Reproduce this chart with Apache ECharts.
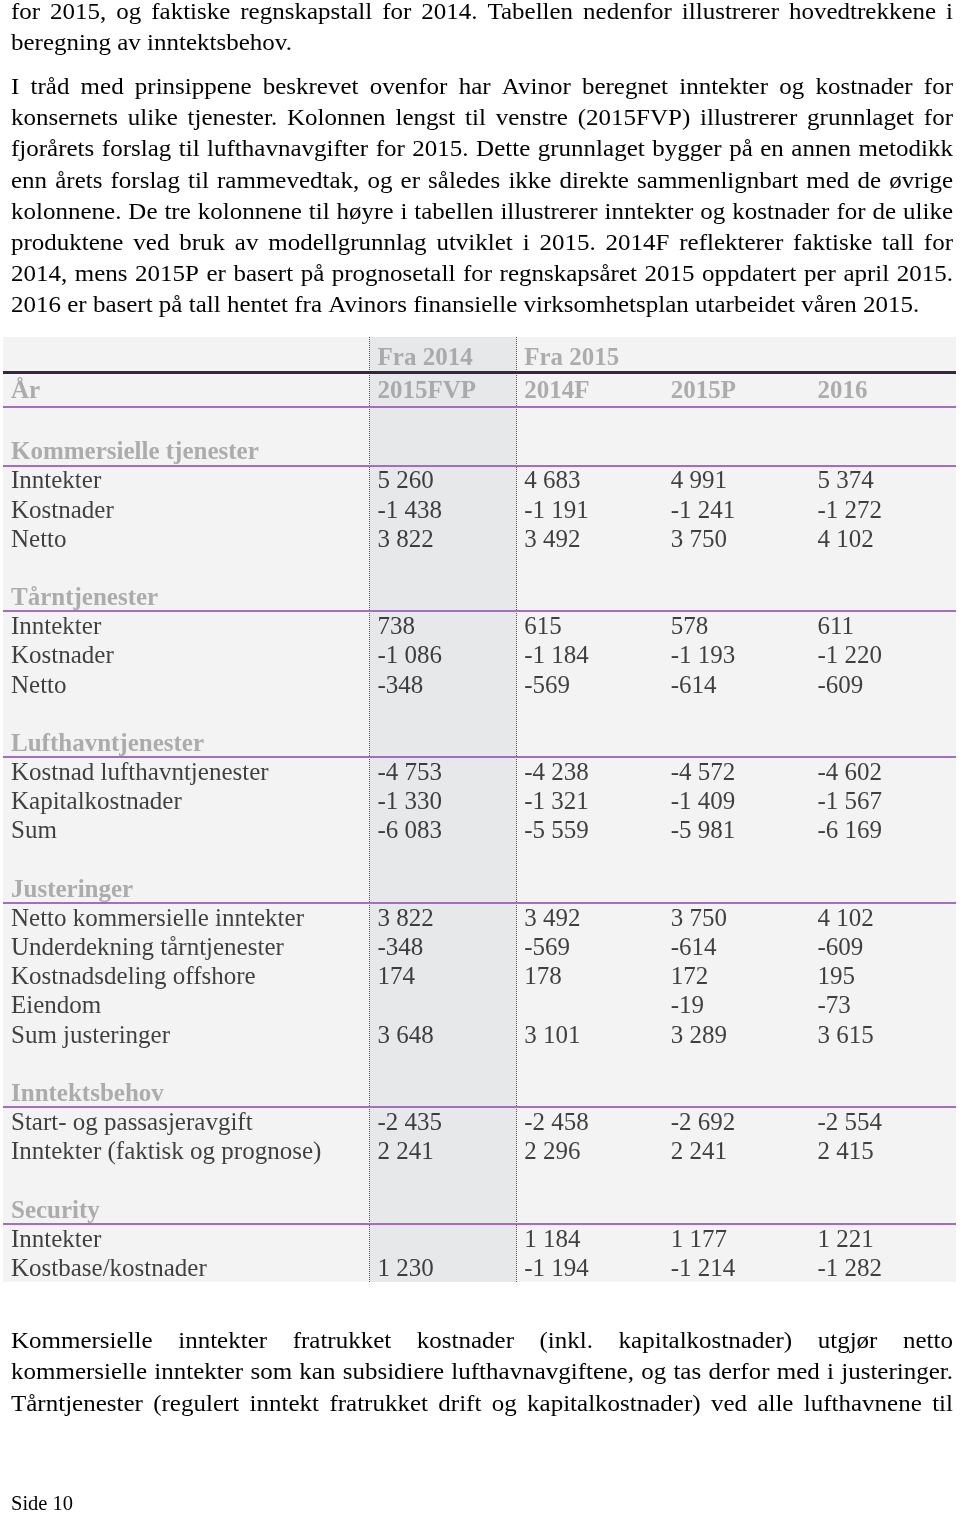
<!DOCTYPE html>
<html>
<head>
<meta charset="utf-8">
<script src="https://cdn.jsdelivr.net/npm/echarts@6/dist/echarts.min.js"></script>
<style>
html, body { margin: 0; padding: 0; background: #fff; }
#page { width: 960px; height: 1514px; }
</style>
</head>
<body>
<div id="page"></div>
<script>
// table columns
const columnNames = ['2015FVP', '2014F', '2015P', '2016'];
const columnGroups = ['Fra 2014', 'Fra 2015', '', ''];

// sections and their rows
const sectionNames = ['Kommersielle tjenester', 'Tårntjenester', 'Lufthavntjenester', 'Justeringer', 'Inntektsbehov', 'Security'];
const rowLabels = [
    ['Inntekter', 'Kostnader', 'Netto'],
    ['Inntekter', 'Kostnader', 'Netto'],
    ['Kostnad lufthavntjenester', 'Kapitalkostnader', 'Sum'],
    ['Netto kommersielle inntekter', 'Underdekning tårntjenester', 'Kostnadsdeling offshore', 'Eiendom', 'Sum justeringer'],
    ['Start- og passasjeravgift', 'Inntekter (faktisk og prognose)'],
    ['Inntekter', 'Kostbase/kostnader']
];

// values per column, in row order (null = empty cell)
const values2015FVP = [5260, -1438, 3822, 738, -1086, -348, -4753, -1330, -6083, 3822, -348, 174, null, 3648, -2435, 2241, null, 1230];
const values2014F = [4683, -1191, 3492, 615, -1184, -569, -4238, -1321, -5559, 3492, -569, 178, null, 3101, -2458, 2296, 1184, -1194];
const values2015P = [4991, -1241, 3750, 578, -1193, -614, -4572, -1409, -5981, 3750, -614, 172, -19, 3289, -2692, 2241, 1177, -1214];
const values2016 = [5374, -1272, 4102, 611, -1220, -609, -4602, -1567, -6169, 4102, -609, 195, -73, 3615, -2554, 2415, 1221, -1282];
const columnValues = [values2015FVP, values2014F, values2015P, values2016];

// running text
const paraTop = [
    'for 2015, og faktiske regnskapstall for 2014. Tabellen nedenfor illustrerer hovedtrekkene i',
    'beregning av inntektsbehov.'
];
const paraMain = [
    'I tråd med prinsippene beskrevet ovenfor har Avinor beregnet inntekter og kostnader for',
    'konsernets ulike tjenester. Kolonnen lengst til venstre (2015FVP) illustrerer grunnlaget for',
    'fjorårets forslag til lufthavnavgifter for 2015. Dette grunnlaget bygger på en annen metodikk',
    'enn årets forslag til rammevedtak, og er således ikke direkte sammenlignbart med de øvrige',
    'kolonnene. De tre kolonnene til høyre i tabellen illustrerer inntekter og kostnader for de ulike',
    'produktene ved bruk av modellgrunnlag utviklet i 2015. 2014F reflekterer faktiske tall for',
    '2014, mens 2015P er basert på prognosetall for regnskapsåret 2015 oppdatert per april 2015.',
    '2016 er basert på tall hentet fra Avinors finansielle virksomhetsplan utarbeidet våren 2015.'
];
const paraBottom = [
    'Kommersielle inntekter fratrukket kostnader (inkl. kapitalkostnader) utgjør netto',
    'kommersielle inntekter som kan subsidiere lufthavnavgiftene, og tas derfor med i justeringer.',
    'Tårntjenester (regulert inntekt fratrukket drift og kapitalkostnader) ved alle lufthavnene til'
];

const SERIF = 'Liberation Serif';
const LABEL_X = 0;       // left column on the x scale
const FIRST_COL_X = 2.5; // first value column starts here
const X_MAX = 6.5;
const HEAD_GRAY = '#9a9a9a';
const PURPLE = '#a56cc3';
const DARK = '#3a2147';

function fmt(v) {
    const s = String(Math.abs(v)).replace(/\B(?=(\d{3})+(?!\d))/g, ' ');
    return (v < 0 ? '-' : '') + s;
}

// build body rows: blank, section header, data rows
const rowKeys = [];
const labelData = [];
const valueData = columnNames.map(() => []);
const lineColors = [PURPLE];
let dataIdx = 0;
sectionNames.forEach((sec, s) => {
    rowKeys.push('r' + rowKeys.length); lineColors.push('transparent');
    labelData.push({ value: [LABEL_X, rowKeys.length], name: sec, label: { fontWeight: 'bold', color: HEAD_GRAY } });
    rowKeys.push('r' + rowKeys.length); lineColors.push(PURPLE);
    rowLabels[s].forEach(lbl => {
        const y = rowKeys.length;
        labelData.push({ value: [LABEL_X, y], name: lbl });
        columnValues.forEach((arr, c) => {
            if (arr[dataIdx] !== null) valueData[c].push({ value: [FIRST_COL_X + c, y], name: fmt(arr[dataIdx]) });
        });
        rowKeys.push('r' + rowKeys.length); lineColors.push('transparent');
        dataIdx++;
    });
});

// header rows
const headData = [{ value: [LABEL_X, 1], name: 'År' }];
columnNames.forEach((n, c) => {
    headData.push({ value: [FIRST_COL_X + c, 1], name: n });
    if (columnGroups[c]) headData.push({ value: [FIRST_COL_X + c, 0], name: columnGroups[c], label: { offset: [0, 4] } });
});

const cellLabel = {
    show: true, position: 'right', distance: 8, offset: [0, 2],
    formatter: p => p.name,
    fontFamily: SERIF, fontSize: 25, color: '#111'
};

const shadedColumn = {
    silent: true,
    itemStyle: { color: '#e7e8ea' },
    data: [[{ xAxis: FIRST_COL_X }, { xAxis: FIRST_COL_X + 1 }]]
};
const dottedLines = {
    silent: true, symbol: ['none', 'none'], label: { show: false },
    lineStyle: { type: 'dotted', color: '#555', width: 1 },
    data: [{ xAxis: FIRST_COL_X }, { xAxis: FIRST_COL_X + 1 }]
};

// justified running text as graphic words
const TEXT_LEFT = 11, TEXT_RIGHT = 953;
const P_SIZE = 25, P_SCALE_Y = 0.92;
const ctx = document.createElement('canvas').getContext('2d');
function textLines(lines, startY, step, justifyLast) {
    ctx.font = P_SIZE + 'px "' + SERIF + '"';
    const out = [];
    lines.forEach((line, i) => {
        const words = line.split(' ');
        const widths = words.map(w => ctx.measureText(w).width);
        let gap = ctx.measureText(' ').width;
        const justify = i < lines.length - 1 || justifyLast;
        if (justify && words.length > 1) {
            gap = (TEXT_RIGHT - TEXT_LEFT - widths.reduce((a, b) => a + b, 0)) / (words.length - 1);
        }
        let x = TEXT_LEFT;
        const y = startY + i * step;
        words.forEach((w, k) => {
            out.push({
                type: 'text', x: x, y: y, scaleY: P_SCALE_Y, silent: true,
                style: { text: w, fill: '#000', fontSize: P_SIZE, fontFamily: SERIF, verticalAlign: 'middle' }
            });
            x += widths[k] + gap;
        });
    });
    return out;
}
const graphics = [].concat(
    textLines(paraTop, 13, 31.2, false),
    textLines(paraMain, 88, 31.2, false),
    textLines(paraBottom, 1342, 31.3, true),
    [{ type: 'text', x: 11, y: 1505, silent: true,
       style: { text: 'Side 10', fill: '#000', fontSize: 20.5, fontFamily: SERIF, verticalAlign: 'middle' } }]
);

const chart = echarts.init(document.getElementById('page'));
chart.setOption({
    animation: false,
    backgroundColor: '#fff',
    grid: [
        { left: 3, right: 4, top: 337, height: 70, show: true, backgroundColor: '#f3f3f3', borderWidth: 0 },
        { left: 3, right: 4, top: 407, height: 875, show: true, backgroundColor: '#f3f3f3', borderWidth: 0 }
    ],
    xAxis: [
        { type: 'value', gridIndex: 0, min: 0, max: X_MAX, show: false },
        { type: 'value', gridIndex: 1, min: 0, max: X_MAX, show: false }
    ],
    yAxis: [
        {
            type: 'category', gridIndex: 0, inverse: true, data: ['group', 'year'], z: 10,
            axisLine: { show: false }, axisTick: { show: false }, axisLabel: { show: false },
            splitLine: { show: true, interval: 0, lineStyle: { color: ['transparent', DARK, 'transparent'], width: 3 } }
        },
        {
            type: 'category', gridIndex: 1, inverse: true, data: rowKeys, z: 10,
            axisLine: { show: false }, axisTick: { show: false }, axisLabel: { show: false, interval: 0 },
            splitLine: { show: true, interval: 0, lineStyle: { color: lineColors, width: 2 } }
        }
    ],
    graphic: graphics,
    series: [
        {
            type: 'scatter', xAxisIndex: 0, yAxisIndex: 0, symbolSize: 0, silent: true,
            data: headData,
            label: Object.assign({}, cellLabel, { fontWeight: 'bold', color: HEAD_GRAY }),
            markArea: shadedColumn, markLine: dottedLines
        },
        {
            type: 'scatter', xAxisIndex: 1, yAxisIndex: 1, symbolSize: 0, silent: true,
            data: labelData, label: cellLabel,
            markArea: shadedColumn, markLine: dottedLines
        }
    ].concat(columnNames.map((n, c) => ({
        name: n, type: 'scatter', xAxisIndex: 1, yAxisIndex: 1, symbolSize: 0, silent: true,
        data: valueData[c], label: cellLabel
    })))
});
</script>
</body>
</html>
